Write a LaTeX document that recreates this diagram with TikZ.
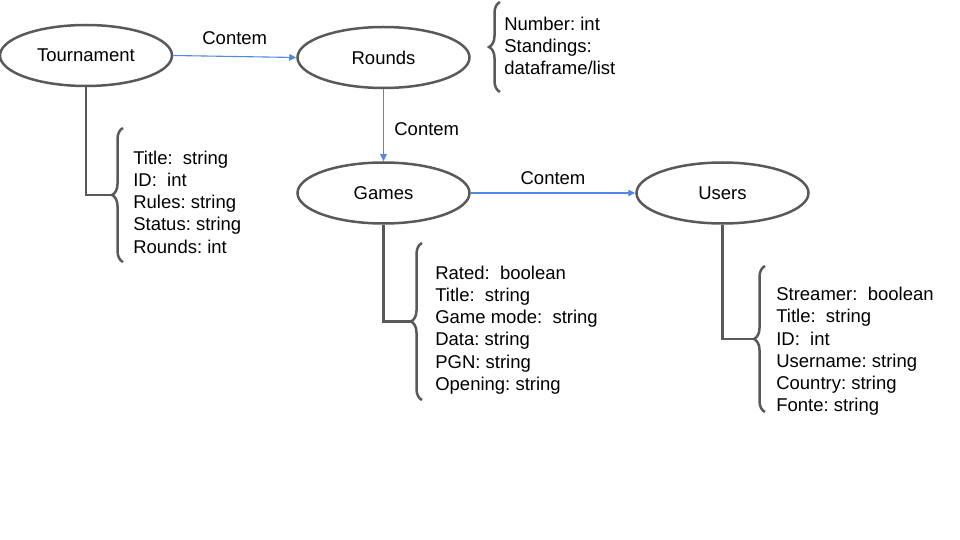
\documentclass[tikz,border=0pt]{standalone}
\usepackage{fontspec}
\setmainfont{Liberation Sans}
\usetikzlibrary{shapes.geometric,arrows.meta,decorations.pathreplacing}
\definecolor{linegray}{HTML}{595959}
\definecolor{arrowblue}{HTML}{4F88E8}
\frenchspacing
\begin{document}
\begin{tikzpicture}[x=1pt, y=-1pt, semithick, every node/.style={font=\fontsize{18.5}{22.2}\selectfont}]
    \tikzset{ent/.style={draw=linegray, line width=2.5pt, ellipse, minimum width=172pt, minimum height=61pt, inner sep=0pt}};
    \tikzset{attr/.style={align=left, anchor=west, inner sep=0pt}};
    \tikzset{rel/.style={draw=arrowblue, line width=1.1pt, -{Triangle[length=7pt,width=6.5pt]}}};
    \tikzset{stem/.style={draw=linegray, line width=2.5pt}};
    \tikzset{bracket/.style={draw=linegray, line width=2.5pt, decorate, decoration={brace, amplitude=11pt}}};
    \useasboundingbox (0,0) rectangle (960,540);
    \node[ent] (tour) at (86,55.5) {Tournament};
    \node[ent] (rounds) at (383.5,57.5) {Rounds};
    \node[ent] (games) at (383.5,193) {Games};
    \node[ent] (users) at (722.5,193) {Users};
    \node[attr] (tourAttr) at (133,202) {Title:~ string\\ID:~ int\\Rules: string\\Status: string\\Rounds: int};
    \node[attr] (roundsAttr) at (504,46) {Number: int\\Standings:\\dataframe/list};
    \node[attr] (gamesAttr) at (435,330) {Rated:~ boolean\\Title:~ string\\Game mode:~ string\\Data: string\\PGN: string\\Opening: string};
    \node[attr] (usersAttr) at (776,351.5) {Streamer:~ boolean\\Title:~ string\\ID:~ int\\Username: string\\Country: string\\Fonte: string};
    % brace tips
    \coordinate (tourTip) at (112,195);
    \coordinate (gamesTip) at (411,321.5);
    \coordinate (usersTip) at (754,339);
    \draw[rel] (tour.east) -- node[above=8pt] {Contem} (rounds.west);
    \draw[rel] (rounds.south) -- node[right=7pt, pos=0.56] {Contem} (games.north);
    \draw[rel] (games.east) -- node[above=4.5pt] {Contem} (users.west);
    \draw[bracket] (123,262) -- (123,128);
    \draw[bracket] (500,92) -- (500,2);
    \draw[bracket] (422,400) -- (422,243);
    \draw[bracket] (765,412) -- (765,266);
    \draw[stem] (tour.south) |- (tourTip);
    \draw[stem] (games.south) |- (gamesTip);
    \draw[stem] (users.south) |- (usersTip);
\end{tikzpicture}
\end{document}
